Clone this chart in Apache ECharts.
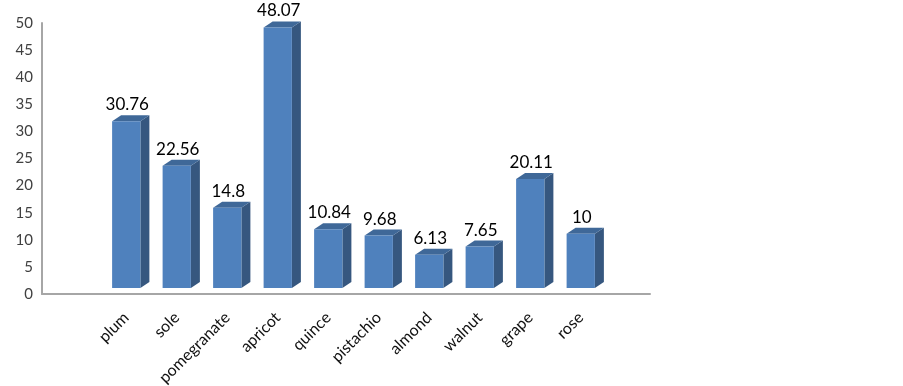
<!DOCTYPE html>
<html>
<head>
<meta charset="utf-8">
<script src="https://cdn.jsdelivr.net/npm/echarts@6/dist/echarts.min.js"></script>
<style>
html,body{margin:0;padding:0;background:#fff;}
#chart{width:903px;height:386px;}
</style>
</head>
<body>
<div id="chart"></div>
<script>
var categories = ['plum', 'sole', 'pomegranate', 'apricot', 'quince', 'pistachio', 'almond', 'walnut', 'grape', 'rose'];
var values = [30.76, 22.56, 14.8, 48.07, 10.84, 9.68, 6.13, 7.65, 20.11, 10];
var valueLabels = ['30.76', '22.56', '14.8', '48.07', '10.84', '9.68', '6.13', '7.65', '20.11', '10'];
var yTicks = [0, 5, 10, 15, 20, 25, 30, 35, 40, 45, 50];

var FONT = 'Lato, "Open Sans", sans-serif';
var chart = echarts.init(document.getElementById('chart'), null, {renderer: 'canvas'});

var lift = 6, dx = 9, dy = 6;

function renderItem(params, api) {
  var idx = api.value(0);
  var v = api.value(1);
  var top = api.coord([idx, v]);
  var base = api.coord([idx, 0]);
  var band = api.size([1, 0])[0];
  var w = band * 0.56;
  var x0 = top[0] - w / 2, x1 = top[0] + w / 2;
  var yt = top[1] - lift, yb = base[1] - lift;
  return {
    type: 'group',
    children: [
      {type: 'polygon', shape: {points: [[x1, yt], [x1 + dx, yt - dy], [x1 + dx, yb - dy], [x1, yb]]},
        style: {fill: '#36577F'}},
      {type: 'polygon', shape: {points: [[x0, yt], [x0 + dx, yt - dy], [x1 + dx, yt - dy], [x1, yt]]},
        style: {fill: '#3F6898'}},
      {type: 'rect', shape: {x: x0, y: yt, width: w, height: yb - yt},
        style: {fill: '#4F81BD'}},
      {type: 'text', style: {text: valueLabels[params.dataIndex], x: top[0] + 1, y: yt - dy - 2,
        align: 'center', verticalAlign: 'bottom', fill: '#000', font: '17px ' + FONT}}
    ]
  };
}

var option = {
  animation: false,
  backgroundColor: '#fff',
  grid: [
    {left: 42, right: 253, top: 23, bottom: 92, containLabel: false, outerBoundsMode: 'none'},
    {left: 101, right: 297, top: 23, bottom: 92, containLabel: false, outerBoundsMode: 'none'}
  ],
  xAxis: [
    {gridIndex: 0, type: 'value', min: 0, max: 1, axisLabel: {show: false}, axisTick: {show: false},
      splitLine: {show: false}, axisLine: {show: true, lineStyle: {color: '#A6A6A6', width: 2}}},
    {gridIndex: 1, type: 'category', data: categories, axisLine: {show: false}, axisTick: {show: false},
      axisLabel: {rotate: 45, margin: 21, interval: 0, color: '#111', fontSize: 16, fontFamily: FONT}}
  ],
  yAxis: [
    {gridIndex: 0, type: 'value', min: 0, max: 50, interval: 5,
      axisLine: {show: true, lineStyle: {color: '#A6A6A6', width: 2}}, axisTick: {show: false},
      splitLine: {show: false},
      axisLabel: {margin: 9, color: '#404040', fontSize: 15, fontFamily: FONT,
        formatter: function (v) { return yTicks.indexOf(v) >= 0 ? String(v) : ''; }}},
    {gridIndex: 1, type: 'value', min: 0, max: 50, interval: 5, show: false}
  ],
  series: [{
    type: 'custom',
    xAxisIndex: 1,
    yAxisIndex: 1,
    renderItem: renderItem,
    data: values.map(function (v, i) { return [i, v]; }),
    clip: false
  }]
};
chart.setOption(option);
</script>
</body>
</html>
